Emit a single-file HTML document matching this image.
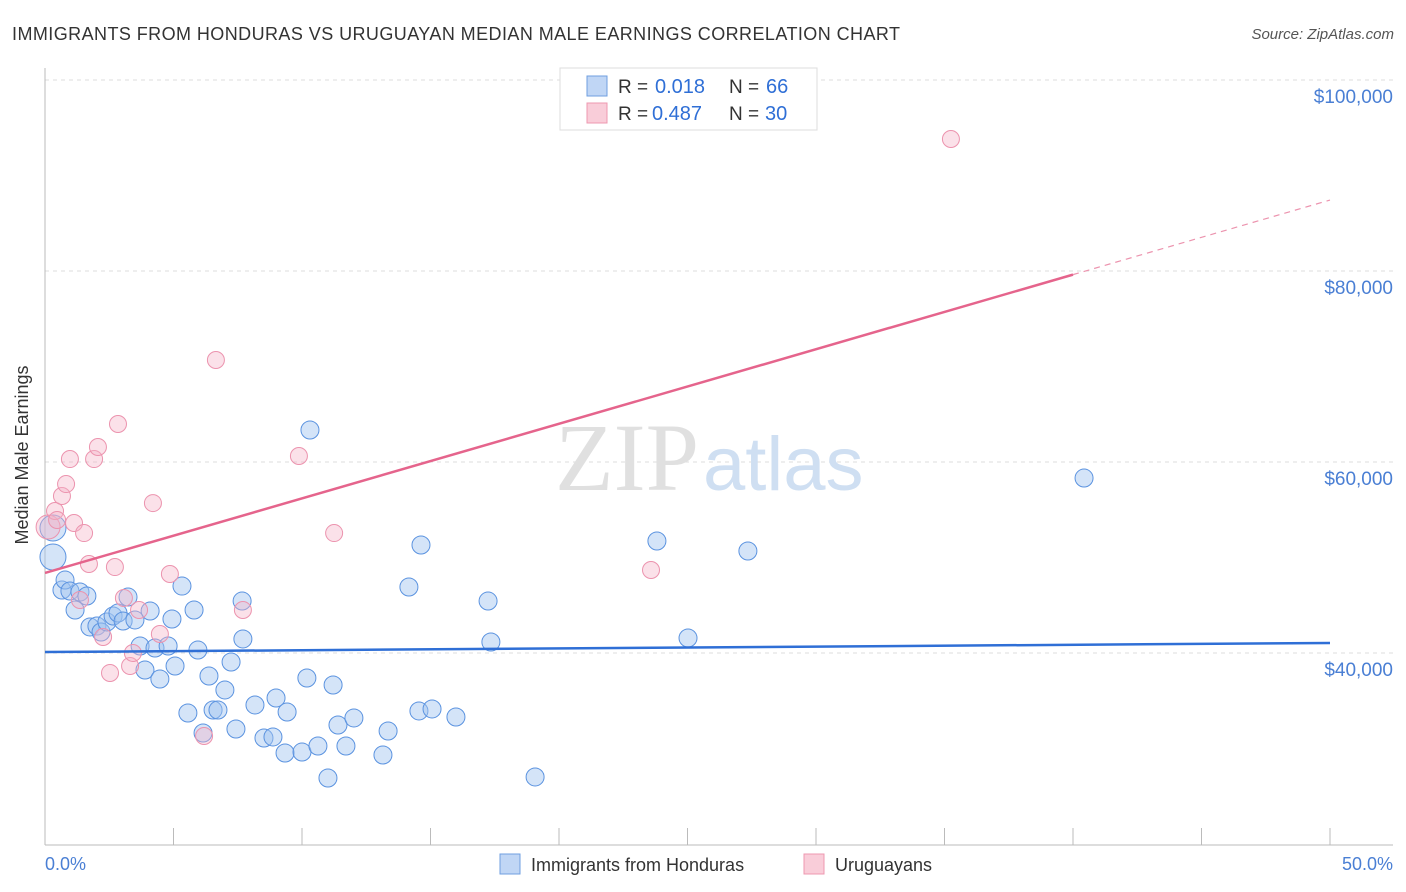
<!DOCTYPE html>
<html><head><meta charset="utf-8"><style>
body{margin:0;background:#fff;font-family:"Liberation Sans",sans-serif}
svg{display:block}
</style></head><body>
<svg width="1406" height="892" viewBox="0 0 1406 892">
<text x="12" y="40" font-size="18" fill="#333" textLength="888">IMMIGRANTS FROM HONDURAS VS URUGUAYAN MEDIAN MALE EARNINGS CORRELATION CHART</text>
<text x="1394" y="39" font-size="15" fill="#555" text-anchor="end" font-style="italic">Source: ZipAtlas.com</text>
<g id="grid"></g>
<text x="555" y="490" font-size="96" fill="#e0e0e0" font-family="Liberation Serif,serif">ZIP<tspan fill="#cfdff2" font-family="Liberation Sans,sans-serif" font-size="76" dx="4">atlas</tspan></text>
<g id="marks"></g>
<text x="28" y="455" font-size="18" fill="#333" text-anchor="middle" transform="rotate(-90 28 455)">Median Male Earnings</text>
<text x="45" y="870" font-size="18" fill="#4a7fd4">0.0%</text>
<text x="1393" y="870" font-size="18" fill="#4a7fd4" text-anchor="end">50.0%</text>
<g>
<rect x="560" y="68" width="257" height="62" fill="#fff" stroke="#ddd"/>
<rect x="587" y="76" width="20" height="20" fill="#c0d6f5" stroke="#6f9fe0"/>
<rect x="587" y="103" width="20" height="20" fill="#f9cdd9" stroke="#ee98b0"/>
<text x="618" y="93" font-size="19" fill="#333">R =</text>
<text x="655" y="93" font-size="20" fill="#2f6fd6">0.018</text>
<text x="729" y="93" font-size="19" fill="#333">N =</text>
<text x="766" y="93" font-size="20" fill="#2f6fd6">66</text>
<text x="618" y="120" font-size="19" fill="#333">R =</text>
<text x="652" y="120" font-size="20" fill="#2f6fd6">0.487</text>
<text x="729" y="120" font-size="19" fill="#333">N =</text>
<text x="765" y="120" font-size="20" fill="#2f6fd6">30</text>
</g>
<g>
<rect x="500" y="854" width="20" height="20" fill="#c0d6f5" stroke="#6f9fe0"/>
<text x="531" y="871" font-size="18" fill="#333">Immigrants from Honduras</text>
<rect x="804" y="854" width="20" height="20" fill="#f9cdd9" stroke="#ee98b0"/>
<text x="835" y="871" font-size="18" fill="#333">Uruguayans</text>
</g>
</svg>
<script>
const yTicks=[40000,60000,80000,100000];
const yTickLabels=["$40,000","$60,000","$80,000","$100,000"];
const xTicks=[0,5,10,15,20,25,30,35,40,45,50];
const blueX=[0.31,0.31,0.66,0.78,0.97,1.17,1.36,1.63,1.75,2.02,2.18,2.41,2.65,2.84,3.04,3.23,3.50,3.70,3.89,4.09,4.28,4.47,4.79,4.94,5.06,5.33,5.56,5.80,5.95,6.15,6.38,6.54,6.73,7.00,7.24,7.43,7.67,7.70,8.17,8.52,8.87,8.99,9.34,9.42,10.0,10.19,10.31,10.62,11.01,11.21,11.40,11.71,12.02,13.15,13.35,14.16,14.55,14.63,15.06,15.99,17.24,17.35,19.07,23.81,25.02,27.35,40.43];
const blueY=[53090,50050,46600,47640,46490,44500,46390,45970,42720,42830,42200,43250,43870,44190,43350,45860,43460,40730,38220,44400,40520,37280,40730,43560,38640,47010,33720,44500,40310,31620,37590,34030,34030,36130,39060,32040,45440,41470,34560,31100,31210,35290,29530,33820,29630,37380,63350,30260,26910,36650,32460,30260,33200,29320,31830,46910,33930,51310,34140,33300,45440,41150,27020,51730,41570,50680,58320];
const pinkX=[0.12,0.39,0.47,0.66,0.82,0.97,1.13,1.52,1.71,1.91,2.06,2.26,2.53,2.72,2.84,3.07,3.31,3.42,3.66,4.20,4.47,4.86,6.19,6.65,7.70,9.88,11.25,23.58,35.25,1.36];
const pinkY=[53190,54870,53930,56440,57690,60310,53610,52560,49320,60310,61570,41680,37910,49000,63980,45760,38640,40000,44500,55700,41990,48270,31310,70680,44500,60630,52560,48690,93820,45550];
const blueTrend=[40100,41050];
const pinkTrend=[48380,87430];
const NS="http://www.w3.org/2000/svg";
const X=v=>45+v/50*1285;
const Y=v=>653-(v-40000)*191/20000;
function mk(tag,attrs,parent){const e=document.createElementNS(NS,tag);for(const k in attrs)e.setAttribute(k,attrs[k]);parent.appendChild(e);return e;}
const grid=document.getElementById('grid'),marks=document.getElementById('marks');
yTicks.forEach((t,i)=>{
 const l=mk('line',{x1:45,x2:1393,y1:Y(t),y2:Y(t),stroke:'#ddd','stroke-dasharray':'4,4'},grid);
 
 
 const tx=mk('text',{x:1393,y:Y(t)+23,'font-size':19,fill:'#4a7fd4','text-anchor':'end'},grid);
 tx.textContent=yTickLabels[i];
 
 
});
const ax=mk('line',{x1:45,x2:45,y1:68,y2:845,stroke:'#bbb'},grid);


const bx=mk('line',{x1:45,x2:1393,y1:845,y2:845,stroke:'#bbb'},grid);


xTicks.forEach(t=>{
 const l=mk('line',{x1:X(t),x2:X(t),y1:828,y2:845,stroke:'#bbb'},grid);
 
 
});
function dot(x,y,fill,stroke,name,r){
 const c=mk('circle',{cx:X(x),cy:Y(y),r:r,fill:fill,stroke:stroke,'stroke-width':1},marks);
 
 
}
blueX.forEach((x,i)=>dot(x,blueY[i],'rgba(160,195,240,0.45)','#5b93e0','honduras-point',i<2?13:9));
pinkX.forEach((x,i)=>dot(x,pinkY[i],'rgba(246,180,200,0.4)','#ec93ae','uruguayan-point',i==0?12:8.5));
const bl=mk('line',{x1:X(0),y1:Y(blueTrend[0]),x2:X(50),y2:Y(blueTrend[1]),stroke:'#2f6fd6','stroke-width':2.5},marks);


const pm=v=>pinkTrend[0]+(pinkTrend[1]-pinkTrend[0])*v/50;
const pl=mk('line',{x1:X(0),y1:Y(pm(0)),x2:X(40),y2:Y(pm(40)),stroke:'#e5648c','stroke-width':2.5},marks);


const pd=mk('line',{x1:X(40),y1:Y(pm(40)),x2:X(50),y2:Y(pm(50)),stroke:'#ec93ae','stroke-width':1.2,'stroke-dasharray':'6,5'},marks);


</script>
</body></html>
